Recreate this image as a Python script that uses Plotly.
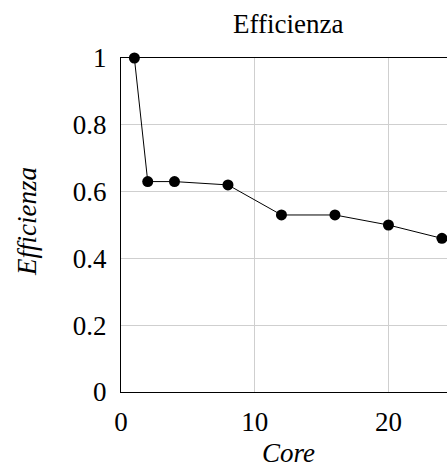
import plotly.graph_objects as go

cores = [1, 2, 4, 8, 12, 16, 20, 24]
efficienza = [1.0, 0.63, 0.63, 0.62, 0.53, 0.53, 0.50, 0.46]
x_ticks = [0, 10, 20]
y_ticks = [0, 0.2, 0.4, 0.6, 0.8, 1]
y_tick_labels = ["0", "0.2", "0.4", "0.6", "0.8", "1"]

FONT = "'Liberation Serif', 'DejaVu Serif', serif"

fig = go.Figure()
fig.add_trace(go.Scatter(
    x=cores, y=efficienza, mode="lines+markers",
    line=dict(color="black", width=1),
    marker=dict(color="black", size=11),
    cliponaxis=False, showlegend=False,
))

W, H = 447, 473
L, T, B = 121, 58, 81
fig.update_layout(
    width=W, height=H,
    margin=dict(l=L, r=0, t=T, b=B, pad=0),
    paper_bgcolor="white", plot_bgcolor="white",
    font=dict(family=FONT, size=27, color="black"),
    xaxis=dict(range=[0, 24.38], tickvals=x_ticks, showgrid=True,
               gridcolor="#cfcfcf", gridwidth=1, showline=True, linecolor="black",
               linewidth=1, mirror=True, zeroline=False, ticks="",
               ticklabelstandoff=6),
    yaxis=dict(range=[0, 1], tickvals=y_ticks, ticktext=y_tick_labels, showgrid=True,
               gridcolor="#cfcfcf", gridwidth=1, showline=True, linecolor="black",
               linewidth=1, mirror=False, zeroline=False, ticks="",
               ticklabelstandoff=8),
    annotations=[
        dict(text="Efficienza", xref="paper", yref="paper",
             x=(287.5 - L) / (W - L), y=1, yshift=34, xanchor="center", yanchor="middle",
             showarrow=False, font=dict(family=FONT, size=27)),
        dict(text="<i>Core</i>", xref="paper", yref="paper",
             x=(288 - L) / (W - L), y=0, yshift=-(453 - 392), xanchor="center", yanchor="middle",
             showarrow=False, font=dict(family=FONT, size=27)),
        dict(text="<i>Efficienza</i>", xref="paper", yref="paper",
             x=0, xshift=-(L - 27), y=(392 - 222) / (392 - 58), xanchor="center", yanchor="middle",
             textangle=-90, showarrow=False, font=dict(family=FONT, size=27)),
    ],
)

fig.write_html("out.html", config={"displayModeBar": False},
               post_script="document.body.style.margin='0';document.body.style.overflow='hidden';")
